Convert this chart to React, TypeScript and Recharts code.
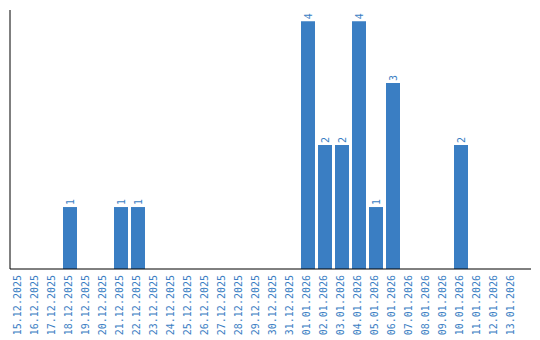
import React from "react";
import { BarChart, Bar, XAxis, YAxis, LabelList } from "recharts";

const dates = [
  "15.12.2025", "16.12.2025", "17.12.2025", "18.12.2025", "19.12.2025",
  "20.12.2025", "21.12.2025", "22.12.2025", "23.12.2025", "24.12.2025",
  "25.12.2025", "26.12.2025", "27.12.2025", "28.12.2025", "29.12.2025",
  "30.12.2025", "31.12.2025", "01.01.2026", "02.01.2026", "03.01.2026",
  "04.01.2026", "05.01.2026", "06.01.2026", "07.01.2026", "08.01.2026",
  "09.01.2026", "10.01.2026", "11.01.2026", "12.01.2026", "13.01.2026",
];
const counts = [
  0, 0, 0, 1, 0, 0, 1, 1, 0, 0,
  0, 0, 0, 0, 0, 0, 0, 4, 2, 2,
  4, 1, 3, 0, 0, 0, 2, 0, 0, 0,
];

const data = dates.map((d, i) => ({ date: d, count: counts[i] }));

const BLUE = "#3a7ec3";
const FONT = "'DejaVu Sans Mono', monospace";

const XTick = (props: any) => {
  const { x, y, payload } = props;
  return (
    <g transform={`translate(${x - 1},${y})`}>
      <text
        transform="rotate(-90)"
        x={2}
        textAnchor="end"
        dy="0.35em"
        fontSize={10}
        fontFamily={FONT}
        fill={BLUE}
      >
        {payload.value}
      </text>
    </g>
  );
};

const ValueLabel = (props: any) => {
  const { x, y, width, value } = props;
  if (!value) return null;
  const cx = Number(x) + Number(width) / 2;
  const cy = Number(y) - 2;
  return (
    <text
      transform={`translate(${cx},${cy}) rotate(-90)`}
      textAnchor="start"
      dy="0.35em"
      fontSize={10}
      fontFamily={FONT}
      fill={BLUE}
    >
      {value}
    </text>
  );
};

export default function App() {
  return (
    <div style={{ position: "absolute", left: 0, top: 0 }}>
      <BarChart
        width={540}
        height={340}
        data={data}
        margin={{ top: 10, right: 9, left: 9, bottom: 0 }}
        barCategoryGap={0}
      >
        <XAxis
          dataKey="date"
          interval={0}
          height={71}
          tickLine={false}
          axisLine={{ stroke: "#000", strokeWidth: 1 }}
          tick={<XTick />}
          padding={{ left: 0, right: 11 }}
        />
        <YAxis
          width={1}
          domain={[0, 4.18]}
          tick={false}
          tickLine={false}
          axisLine={{ stroke: "#000", strokeWidth: 1 }}
        />
        <Bar dataKey="count" fill={BLUE} barSize={14} isAnimationActive={false}>
          <LabelList dataKey="count" content={<ValueLabel />} />
        </Bar>
      </BarChart>
    </div>
  );
}
